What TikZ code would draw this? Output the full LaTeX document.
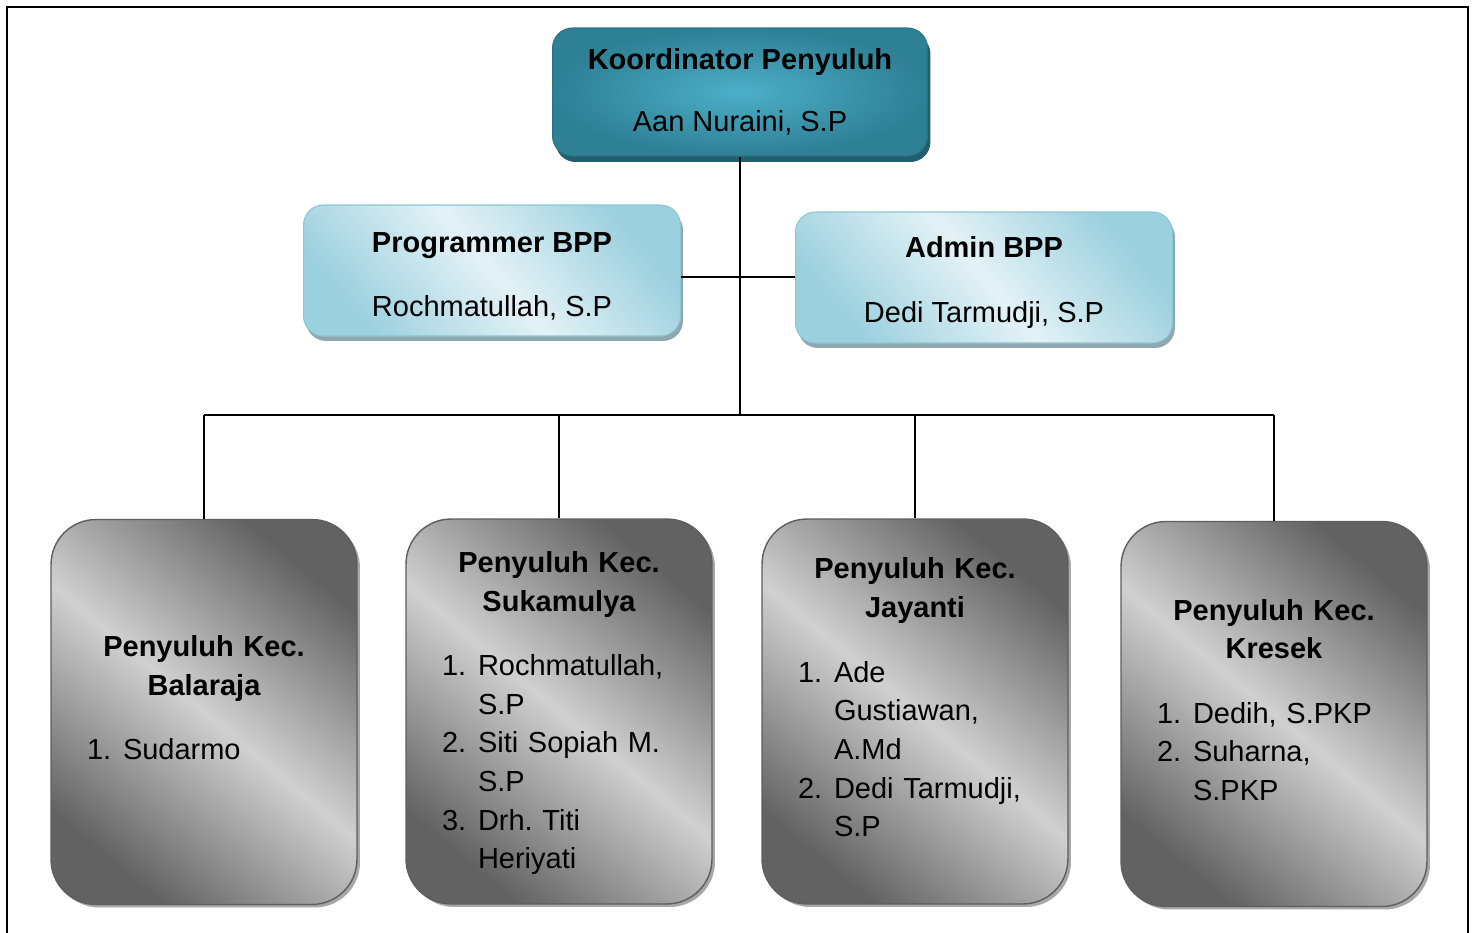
\documentclass[tikz,border=0pt]{standalone}
\usepackage{fontspec}
\setmainfont{Liberation Sans}
\usepackage{array}
\usetikzlibrary{shadows}
\frenchspacing

\definecolor{koorin}{HTML}{4CAFC8}
\definecolor{koorout}{HTML}{2E8095}
\definecolor{koorline}{HTML}{2A7386}
\definecolor{koorshade}{HTML}{225E6D}
\definecolor{bppin}{HTML}{E4F2F6}
\definecolor{bppout}{HTML}{9BD0DE}
\definecolor{bppline}{HTML}{8CC6D4}
\definecolor{bppshade}{HTML}{8FA7AF}
\definecolor{kecdark}{HTML}{626262}
\definecolor{keclight}{HTML}{D0D0D0}
\definecolor{kecline}{HTML}{5E5E5E}
\definecolor{kecshade}{HTML}{A8A8A8}

% title + numbered list of a kecamatan box
\newcommand{\kectext}[3][9.5pt]{{\bfseries Penyuluh Kec.\\#2}\\[14.7pt]
  \makebox[\linewidth][l]{\begin{tabular}[t]{@{}p{0.72cm}@{}l@{}}#3\end{tabular}}\par\kern#1\relax}

\begin{document}
\begin{tikzpicture}[x=0.02cm,y=-0.02cm,
  every node/.style={font=\fontsize{16.5}{22}\selectfont},
  koorbox/.style={draw=koorline,line width=0.6pt,rounded corners=0.4cm,
    inner color=koorin,outer color=koorout,minimum width=7.5cm,minimum height=2.56cm,
    align=center,general shadow={fill=koorshade,shadow xshift=0.06cm,shadow yshift=-0.12cm}},
  bppbox/.style={draw=bppline,line width=0.6pt,rounded corners=0.4cm,
    top color=bppout,bottom color=bppout,middle color=bppin,shading angle=-50,
    minimum width=7.54cm,minimum height=2.62cm,align=center,
    general shadow={fill=bppshade,shadow xshift=0.05cm,shadow yshift=-0.1cm}},
  kecbox/.style={draw=kecline,line width=0.8pt,rounded corners=0.9cm,
    top color=kecdark,bottom color=kecdark,middle color=keclight,shading angle=-40,
    minimum width=6.12cm,minimum height=7.7cm,inner xsep=0.72cm,text width=4.68cm,
    align=center,general shadow={fill=kecshade,shadow xshift=0.06cm,shadow yshift=-0.06cm}},
  wire/.style={line width=0.9pt}]
\useasboundingbox (0,0) rectangle (1475,933);
% page frame
\draw[line width=1.1pt] (7,960) -- (7,7) -- (1468,7) -- (1468,960);

\node[koorbox] (koor) at (740,92) {\textbf{Koordinator Penyuluh}\\[13pt]Aan Nuraini, S.P};
\node[bppbox] (prog) at (492,270.5) {\textbf{\rule{0pt}{18pt}Programmer BPP}\\[14.5pt]Rochmatullah, S.P};
\node[bppbox] (admin) at (984,277.5) {\textbf{\rule{0pt}{18pt}Admin BPP}\\[15pt]Dedi Tarmudji, S.P};

\node[kecbox] (bal) at (204,712) {\kectext{Balaraja}{1. & Sudarmo}};
\node[kecbox] (suk) at (559,711.5) {\kectext[-5pt]{Sukamulya}{1. & Rochmatullah,\\ & S.P\\2. & Siti Sopiah M.\\ & S.P\\3. & Drh. Titi\\ & Heriyati}};
\node[kecbox] (jay) at (915,711.5) {\kectext{Jayanti}{1. & Ade\\ & Gustiawan,\\ & A.Md\\2. & Dedi Tarmudji,\\ & S.P}};
\node[kecbox] (kre) at (1274,714) {\kectext{Kresek}{1. & Dedih, S.PKP\\2. & Suharna,\\ & S.PKP}};

\coordinate (mid) at (740,277);
\coordinate (hub) at (740,415);
\draw[wire] (koor.south) -- (koor.south |- hub);
\draw[wire] (prog.east |- mid) -- (admin.west |- mid);
\draw[wire] (bal.north |- hub) -- (kre.north |- hub);
\foreach \k in {bal,suk,jay,kre}
  \draw[wire] (\k.north) -- (\k.north |- hub);
\end{tikzpicture}
\end{document}
